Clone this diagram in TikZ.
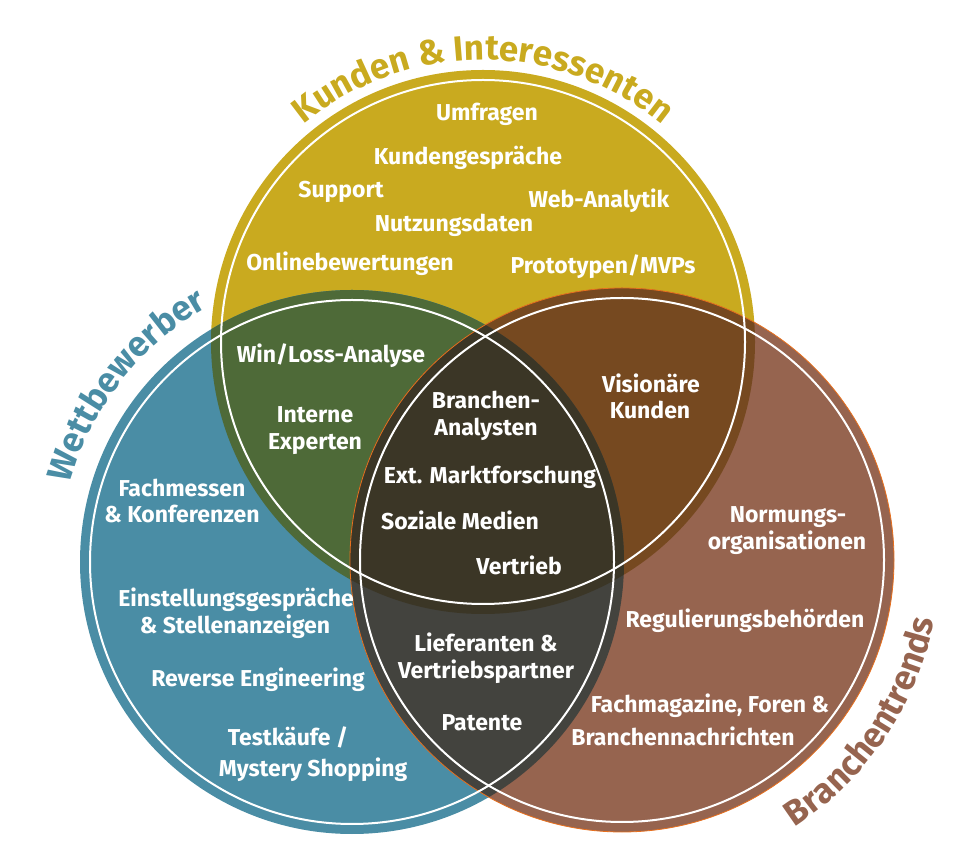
\documentclass[tikz,border=0pt]{standalone}
\usepackage{fontspec}
\setmainfont{Fira Sans}
\usetikzlibrary{decorations.text}
\definecolor{cgold}{HTML}{C9AA1F}
\definecolor{cteal}{HTML}{4A8DA5}
\definecolor{cbrown}{HTML}{96644F}
\definecolor{cgreen}{HTML}{4E6A38}
\definecolor{cdbrown}{HTML}{764920}
\definecolor{cdgray}{HTML}{43433E}
\definecolor{ccenter}{HTML}{3B3626}
\definecolor{corange}{HTML}{E8701E}
\newcommand{\titlefont}{\bfseries\fontsize{35}{40}\selectfont}
\begin{document}
\begin{tikzpicture}[x=1pt,y=1pt,
  item/.style={text=white, font=\bfseries\fontsize{23}{27}\selectfont, anchor=base, inner sep=0pt},
  ring/.style={draw=white, line width=2pt}]
\useasboundingbox (0,0) rectangle (964,860);
\coordinate (T) at (483,518);
\coordinate (L) at (352,298);
\coordinate (R) at (622,300);
% base circles
\fill[cgold] (T) circle[radius=272];
\fill[cteal] (L) circle[radius=272];
\fill[cbrown] (R) circle[radius=272];
% intersections
\begin{scope}
  \clip (T) circle[radius=272];
  \fill[cgreen] (L) circle[radius=272];
  \fill[cdbrown] (R) circle[radius=272];
\end{scope}
\begin{scope}
  \clip (L) circle[radius=272];
  \fill[cdgray] (R) circle[radius=272];
\end{scope}
\begin{scope}
  \clip (T) circle[radius=272];
  \clip (L) circle[radius=272];
  \fill[ccenter] (R) circle[radius=272];
\end{scope}
\draw[corange, line width=0.8pt] (R) circle[radius=272];
% white rings
\draw[ring] (T) circle[radius=262];
\draw[ring] (L) circle[radius=262];
\draw[ring] (R) circle[radius=262];
% titles
\path[decorate, decoration={text along path, text align=center,
  text={|\titlefont\color{cgold}|Kunden {\&} Interessenten}}]
  (T) ++(150:282) arc[start angle=150, end angle=30, radius=282];
\path[decorate, decoration={text along path, text align=center,
  text={|\titlefont\color{cteal}|Wettbewerber}}]
  (L) ++(200:293) arc[start angle=200, end angle=84, radius=293];
\path[decorate, decoration={text along path, text align=center,
  text={|\titlefont\color{cbrown}|Branchentrends}}]
  (R) ++(-90:318) arc[start angle=-90, end angle=22, radius=318];
% items: top circle
\node[item] (umfragen) at (487,860-121) {Umfragen};
\node[item] (kundengespraeche) at (468,860-165) {Kundengespräche};
\node[item] (support) at (341,860-198) {Support};
\node[item] (webanalytik) at (599,860-208) {Web-Analytik};
\node[item] (nutzungsdaten) at (454,860-232) {Nutzungsdaten};
\node[item] (onlinebew) at (350,860-271) {Onlinebewertungen};
\node[item] (prototypen) at (603,860-274) {Prototypen/MVPs};
% top-left
\node[item] (winloss) at (331,860-363) {Win/Loss-Analyse};
\node[item] (interne) at (315,860-423) {Interne};
\node[item] (experten) at (315,860-450) {Experten};
% center
\node[item] (branchen) at (486,860-409) {Branchen-};
\node[item] (analysten) at (486,860-436) {Analysten};
\node[item] (extmarkt) at (490,860-484) {Ext. Marktforschung};
\node[item] (sozial) at (460,860-530) {Soziale Medien};
\node[item] (vertrieb) at (519,860-575) {Vertrieb};
% top-right
\node[item] (visionaere) at (651,860-393) {Visionäre};
\node[item] (kunden) at (650,860-419) {Kunden};
% left
\node[item] (fachmessen) at (182,860-497) {Fachmessen};
\node[item] (konferenzen) at (182,860-523) {\& Konferenzen};
\node[item] (einstellung) at (236,860-607) {Einstellungsgespräche};
\node[item] (stellen) at (235,860-634) {\& Stellenanzeigen};
\node[item] (reverse) at (258,860-687) {Reverse Engineering};
\node[item] (testkaeufe) at (288,860-746) {Testkäufe /};
\node[item] (mystery) at (313,860-776) {Mystery Shopping};
% left-right
\node[item] (lieferanten) at (486,860-652) {Lieferanten \&};
\node[item] (vertriebsp) at (486,860-679) {Vertriebspartner};
\node[item] (patente) at (482,860-731) {Patente};
% right
\node[item] (normungs) at (788,860-523) {Normungs-};
\node[item] (organisationen) at (787,860-550) {organisationen};
\node[item] (regulierung) at (745,860-628) {Regulierungsbehörden};
\node[item] (fachmagazine) at (710,860-713) {Fachmagazine, Foren \&};
\node[item] (branchennachr) at (683,860-745) {Branchennachrichten};
\end{tikzpicture}
\end{document}
